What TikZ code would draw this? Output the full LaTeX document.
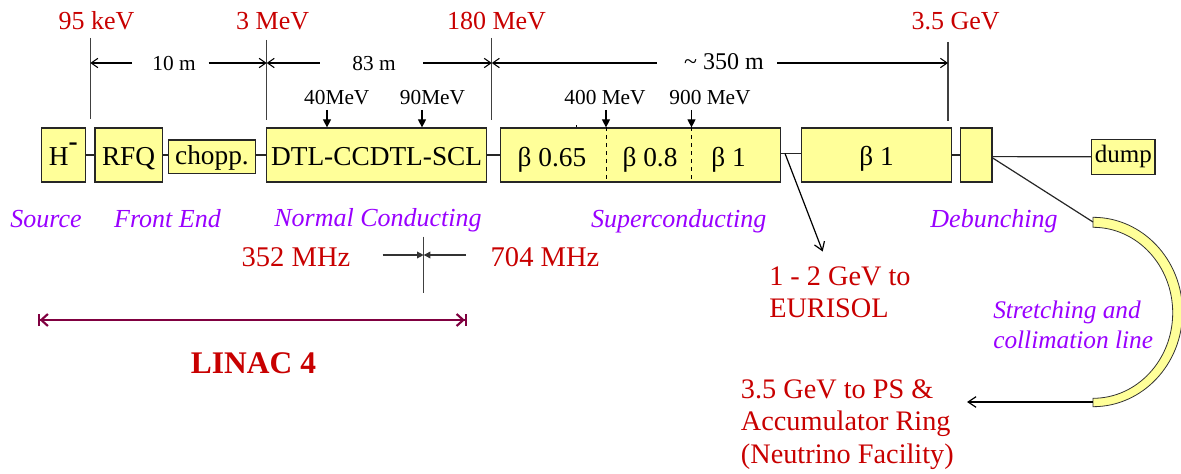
\documentclass[tikz,border=0pt]{standalone}
\usepackage{fontspec}
\setmainfont{Liberation Serif}
\usetikzlibrary{arrows.meta}
\newdimen\PX \PX=0.75pt
\definecolor{cred}{RGB}{200,0,0}
\definecolor{cpurple}{RGB}{153,0,255}
\definecolor{boxyellow}{RGB}{255,255,153}
\definecolor{cmaroon}{RGB}{128,0,64}
\tikzset{
  box/.style={draw=black!85, fill=boxyellow, line width=0.9pt, inner sep=0pt,
    text height=22\PX, text depth=0pt, font=\fontsize{20.5pt}{24pt}\selectfont},
  energy/.style={text=cred, anchor=base, inner sep=0pt, font=\fontsize{19.5pt}{23pt}\selectfont},
  dimlbl/.style={anchor=base, inner sep=0pt, font=\fontsize{16pt}{19pt}\selectfont},
  sublbl/.style={anchor=base, inner sep=0pt, font=\fontsize{16pt}{19pt}\selectfont},
  betalbl/.style={anchor=base, inner sep=0pt, font=\fontsize{20.5pt}{24pt}\selectfont},
  phase/.style={text=cpurple, anchor=base, inner sep=0pt, font=\fontsize{19.5pt}{23pt}\selectfont\itshape},
  bigred/.style={text=cred, inner sep=0pt, font=\fontsize{21.2pt}{24.2pt}\selectfont},
  marker/.style={draw=black!75, line width=1pt},
  conn/.style={draw=black!85, line width=0.9pt},
  dimarr/.style={draw=black, line width=0.8pt, -{Straight Barb[length=5pt,width=7pt]}},
  tri/.style={draw=black, line width=0.8pt, -{Triangle[length=6pt,width=6pt]}},
  mhz/.style={draw=black!80, line width=0.9pt, -{Triangle[length=5pt,width=5pt]}},
  barb/.style={draw=black, line width=0.9pt, -{Straight Barb[length=6pt,width=8pt]}},
  linac/.style={draw=cmaroon, line width=1.6pt,
    {Bar[width=9pt,sep=0pt]Straight Barb[length=5pt,width=9pt]}-{Straight Barb[length=5pt,width=9pt,sep=0pt]Bar[width=9pt]}},
}
\begin{document}
\begin{tikzpicture}[x=0.75pt,y=-0.75pt]
\useasboundingbox (0,0) rectangle (1181,474);

% boxes
\node[box, minimum width=44\PX, minimum height=54\PX] (h) at (63.3,155) {H\raisebox{11.5pt}{\bfseries -}};
\node[box, minimum width=67.4\PX, minimum height=54\PX] (rfq) at (128.6,155) {RFQ};
\node[box, minimum width=86.5\PX, minimum height=33.3\PX, text height=16.6\PX] (chopp) at (212,156.7) {chopp.};
\node[box, minimum width=220.4\PX, minimum height=54\PX] (dtl) at (376.6,155) {DTL-CCDTL-SCL};
\node[box, minimum width=279.9\PX, minimum height=54\PX] (sc) at (640.5,155) {};
\node[box, minimum width=150.3\PX, minimum height=54\PX] (b1) at (876.6,155) {β 1};
\node[box, minimum width=31.4\PX, minimum height=54\PX] (deb) at (976.3,155) {};
\node[box, minimum width=63.3\PX, minimum height=35\PX, text height=12.4\PX,
      font=\fontsize{18.75pt}{22pt}\selectfont] (dump) at (1123.3,156.8) {dump};

% texts inside the superconducting box
\node[betalbl] (b065) at (552,166.7) {β 0.65};
\node[betalbl] (b08) at (650,166.7) {β 0.8};
\node[betalbl] (b10) at (728.5,166.7) {β 1};

% energy labels
\node[energy] (e95) at (96.6,30) {95 keV};
\node[energy] (e3) at (272.7,30) {3 MeV};
\node[energy] (e180) at (496.5,30) {180 MeV};
\node[energy] (e35) at (955.6,30) {3.5 GeV};

% marker lines
\coordinate (m1t) at (90.3,38);  \coordinate (m1b) at (90.3,119);
\coordinate (m2t) at (266.7,40); \coordinate (m2b) at (266.7,120);
\coordinate (m3t) at (491.8,38); \coordinate (m3b) at (491.8,120);
\coordinate (m4t) at (948,42);   \coordinate (m4b) at (948,121);
\draw[marker] (m1t) -- (m1b);
\draw[marker] (m2t) -- (m2b);
\draw[marker] (m3t) -- (m3b);
\draw[marker] (m4t) -- (m4b);

% distances
\node[dimlbl] (d10) at (174,71) {10 m};
\node[dimlbl] (d83) at (374,71) {83 m};
\node[dimlbl, font=\fontsize{18pt}{21pt}\selectfont] (d350) at (724,70) {\textasciitilde\ 350 m};
\coordinate (a10l) at (132,63);   \coordinate (a10r) at (208.6,63);
\coordinate (a83l) at (319.6,63);  \coordinate (a83r) at (423,63);
\coordinate (a350l) at (656.7,63); \coordinate (a350r) at (777.4,63);
\draw[dimarr] (a10l) -- (m1t |- a10l);
\draw[dimarr] (a10r) -- (m2t |- a10r);
\draw[dimarr] (a83l) -- (m2t |- a83l);
\draw[dimarr] (a83r) -- (m3t |- a83r);
\draw[dimarr] (a350l) -- (m3t |- a350l);
\draw[dimarr] (a350r) -- (m4t |- a350r);

% intermediate energies
\node[sublbl] (s40) at (336.8,105) {40MeV};
\node[sublbl] (s90) at (432.5,105) {90MeV};
\node[sublbl] (s400) at (605,105) {400 MeV};
\node[sublbl] (s900) at (710,105) {900 MeV};
\coordinate (k40) at (327,110);
\coordinate (k90) at (422,110);
\coordinate (k400) at (606,110);
\coordinate (k900) at (691.5,110);
\draw[tri] (k40) -- (k40 |- dtl.north);
\draw[tri] (k90) -- (k90 |- dtl.north);
\draw[tri] (k400) -- (k400 |- sc.north);
\draw[tri] (k900) -- (k900 |- sc.north);
\draw[dashed, line width=0.7pt, dash pattern=on 4\PX off 4\PX] (sc.north -| k400) -- (sc.south -| k400);
\draw[dashed, line width=0.7pt, dash pattern=on 4\PX off 4\PX] (sc.north -| k900) -- (sc.south -| k900);
\coordinate (tick) at (576,125.5);
\draw[line width=0.6pt] (tick) -- (tick |- sc.north);

% connectors between boxes
\draw[conn] (h.east) -- (rfq.west);
\draw[conn] (rfq.east) -- (rfq.east -| chopp.west);
\draw[conn] (dtl.west -| chopp.east) -- (dtl.west);
\draw[conn] (dtl.east) -- (sc.west);
\draw[conn] ([yshift=1.3pt]sc.east) -- ([yshift=1.3pt]b1.west);
\draw[conn] (b1.east) -- (deb.west);
\draw[conn] ([yshift=-1.2pt]deb.east) -- (dump.west);

% EURISOL branch
\coordinate (eu0) at (785,153.5);
\coordinate (eutip) at (822.7,251.5);
\draw[barb] (eu0) -- (eutip);
\node[bigred, anchor=base west, align=left, font=\fontsize{21.2pt}{23.8pt}\selectfont] (eur) at (769,317.7) {1 - 2 GeV to\\EURISOL};

% stretching and collimation line
\coordinate (arctop) at (1093,222);
\coordinate (arcbot) at (1093,402);
\fill[boxyellow, draw=black!80, line width=0.6pt]
  (1093,217.3) arc[start angle=-90, end angle=90, x radius=89.5, y radius=94.7]
  -- (1093,398.3) arc[start angle=90, end angle=-90, x radius=79.7, y radius=85.5] -- cycle;
\draw[conn] ([yshift=-2.2pt]deb.east) -- (arctop);
\coordinate (pstip) at (967,402);
\draw[barb] (arcbot) -- (pstip);
\node[phase, anchor=base west, align=left, font=\fontsize{19pt}{22.5pt}\selectfont\itshape] (str) at (993,348.3) {Stretching and\\collimation line};
\node[bigred, anchor=base west, align=left, font=\fontsize{21.2pt}{24.4pt}\selectfont] (ps) at (740.7,463.3) {3.5 GeV to PS \&\\Accumulator Ring\\(Neutrino Facility)};

% section labels
\node[phase] (src) at (46,227) {Source};
\node[phase] (fe) at (167.5,227) {Front End};
\node[phase] (nc) at (378,226) {Normal Conducting};
\node[phase] (scl) at (678.7,227) {Superconducting};
\node[phase] (dbl) at (994,227) {Debunching};

% frequency change
\node[energy, font=\fontsize{21.4pt}{25pt}\selectfont] (f352) at (296,266.7) {352 MHz};
\node[energy, font=\fontsize{21.4pt}{25pt}\selectfont] (f704) at (545,266.7) {704 MHz};
\coordinate (ft) at (423.7,236.7); \coordinate (fb) at (423.7,293.3);
\draw[marker] (ft) -- (fb);
\coordinate (fl) at (382.7,255); \coordinate (fr) at (466,255);
\draw[mhz] (fl) -- (ft |- fl);
\draw[mhz] (fr) -- (ft |- fr);

% LINAC 4
\coordinate (l1) at (37.5,320); \coordinate (l2) at (467,320);
\draw[linac] (l1) -- (l2);
\node[text=cred, anchor=base, inner sep=0pt, font=\fontsize{23.6pt}{27pt}\selectfont\bfseries] (linac) at (253.5,373.3) {LINAC 4};
\end{tikzpicture}
\end{document}
